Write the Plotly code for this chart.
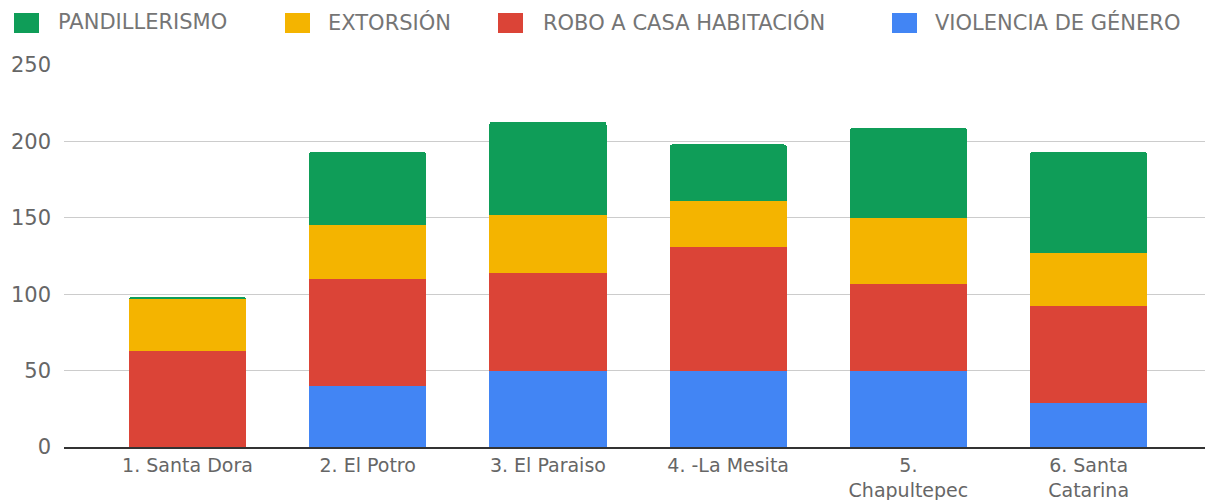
import plotly.graph_objects as go

categories = ["1. Santa Dora", "2. El Potro", "3. El Paraiso", "4. -La Mesita",
              "5.<br>Chapultepec", "6. Santa<br>Catarina"]
violencia = [0, 40, 50, 50, 50, 29]
robo = [63, 70, 64, 81, 57, 63]
extorsion = [34, 35, 38, 30, 43, 35]
pandillerismo = [1, 48, 61, 37, 59, 66]

series_names = ["VIOLENCIA DE GÉNERO", "ROBO A CASA HABITACIÓN", "EXTORSIÓN", "PANDILLERISMO"]
series_values = [violencia, robo, extorsion, pandillerismo]
series_colors = ["#4285F4", "#DB4437", "#F4B400", "#0F9D58"]

FONT = "DejaVu Sans"

# geometry of the plot area in screen pixels (page body adds an 8px offset)
FIG_W, FIG_H = 1205, 492
M_L, M_R, M_T, M_B = 56, 0, 57, 53
OFF = 8
PLOT_X0 = OFF + M_L
PLOT_W = FIG_W - M_L - M_R
PLOT_Y1 = OFF + FIG_H - M_B
PLOT_H = FIG_H - M_T - M_B


def px_to_paper_x(px):
    return (px - PLOT_X0) / PLOT_W


def px_to_paper_y(py):
    return (PLOT_Y1 - py) / PLOT_H


fig = go.Figure()
for name, vals, color in zip(series_names, series_values, series_colors):
    fig.add_trace(go.Bar(x=categories, y=vals, name=name, marker_color=color,
                         marker_line_width=0, width=0.65, showlegend=False,
                         hoverinfo="x+y+name"))

# custom top legend (top-of-stack first), laid out as in the original
legend_slots = [(14, 56), (285, 326), (498, 541), (892, 933)]  # swatch left, text left (px)
for (sw_x, tx_x), name, color in zip(legend_slots, series_names[::-1], series_colors[::-1]):
    fig.add_shape(type="rect", xref="paper", yref="paper",
                  x0=px_to_paper_x(sw_x), x1=px_to_paper_x(sw_x + 25),
                  y0=px_to_paper_y(33), y1=px_to_paper_y(13),
                  fillcolor=color, line=dict(width=0), layer="above")
    fig.add_annotation(xref="paper", yref="paper", x=px_to_paper_x(tx_x),
                       y=px_to_paper_y(22), xanchor="left", yanchor="middle",
                       text=name, showarrow=False,
                       font=dict(family=FONT, size=21, color="#757575"))

fig.update_layout(
    barmode="stack",
    barcornerradius=3,
    width=FIG_W, height=FIG_H,
    margin=dict(l=M_L, r=M_R, t=M_T, b=M_B),
    plot_bgcolor="white", paper_bgcolor="white",
    showlegend=False,
    font=dict(family=FONT, size=20, color="#666666"),
    xaxis=dict(showline=True, linecolor="#333333", linewidth=2, showgrid=False,
               range=[-0.685, 5.69], tickfont=dict(family=FONT, size=19, color="#666666"),
               ticks="", ticklabelstandoff=0, automargin=False),
    yaxis=dict(range=[0, 250], tickvals=[0, 50, 100, 150, 200, 250],
               gridcolor="#cccccc", gridwidth=1, zeroline=False,
               tickfont=dict(family=FONT, size=21, color="#666666"), ticks="",
               ticklabelstandoff=12, automargin=False),
)

fig.write_html("out.html")
